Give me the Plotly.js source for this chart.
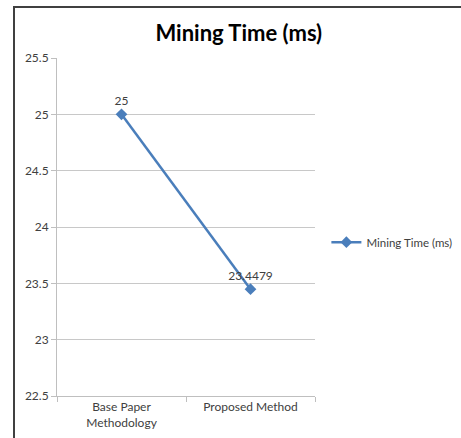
<!DOCTYPE html>
<html>
<head>
<meta charset="utf-8">
<script src="https://cdn.plot.ly/plotly-3.0.1.min.js"></script>
<style>
html,body{margin:0;padding:0;background:#fff;}
#wrap{position:relative;width:461px;height:438px;overflow:hidden;}
#frame{position:absolute;left:13px;top:6px;width:460px;height:440px;border-left:2px solid #404040;border-top:2px solid #404040;pointer-events:none;z-index:5;}
#chart{position:absolute;left:0;top:0;width:461px;height:438px;}
</style>
</head>
<body>
<div id="wrap">
<div id="chart"></div>
<div id="frame"></div>
</div>
<script>
const categories = ["Base Paper<br>Methodology", "Proposed Method"];
const values = [25, 23.4479];
const labels = ["25", "23.4479"];
const seriesName = "Mining Time (ms)";
const yTicks = [22.5, 23, 23.5, 24, 24.5, 25, 25.5];

const font = "Lato, 'Open Sans', sans-serif";

Plotly.newPlot("chart", [{
  type: "scatter",
  mode: "lines+markers+text",
  x: categories,
  y: values,
  name: seriesName,
  text: labels,
  textposition: ["top center", "top center"],
  textfont: {family: font, size: 12, color: "#404040"},
  line: {color: "#4a7ebb", width: 2.5},
  marker: {symbol: "diamond", size: 9, color: "#4a7ebb"},
  cliponaxis: false
}], {
  width: 461, height: 438,
  margin: {l: 57, r: 146, t: 58, b: 42, autoexpand: false},
  paper_bgcolor: "#fff",
  plot_bgcolor: "#fff",
  title: {text: "<b>Mining Time (ms)</b>", font: {family: font, size: 22, color: "#000"}, x: 0.518, xanchor: "center", y: 0.925, yanchor: "middle"},
  font: {family: font, size: 12, color: "#595959"},
  showlegend: true,
  legend: {xref: "container", yref: "container", x: 0.708, xanchor: "left", y: 0.447, yanchor: "middle", font: {family: font, size: 11.5, color: "#404040"}, bgcolor: "rgba(0,0,0,0)"},
  xaxis: {
    type: "category",
    range: [-0.5, 1.5],
    showgrid: false,
    showline: true, linecolor: "#bfbfbf", linewidth: 1,
    ticks: "outside", ticklen: 5, tickcolor: "#bfbfbf",
    tickson: "boundaries",
    tickfont: {family: font, size: 12, color: "#404040"},
    automargin: false,
    fixedrange: true
  },
  yaxis: {
    range: [22.5, 25.5],
    tickvals: yTicks,
    ticktext: yTicks.map(String),
    showgrid: true, gridcolor: "#c8c8c8", gridwidth: 1,
    showline: true, linecolor: "#bfbfbf", linewidth: 1,
    ticks: "outside", ticklen: 5, tickcolor: "#bfbfbf",
    zeroline: false,
    tickfont: {family: font, size: 12, color: "#404040"},
    automargin: false,
    fixedrange: true
  }
}, {displayModeBar: false, staticPlot: true});
</script>
</body>
</html>
